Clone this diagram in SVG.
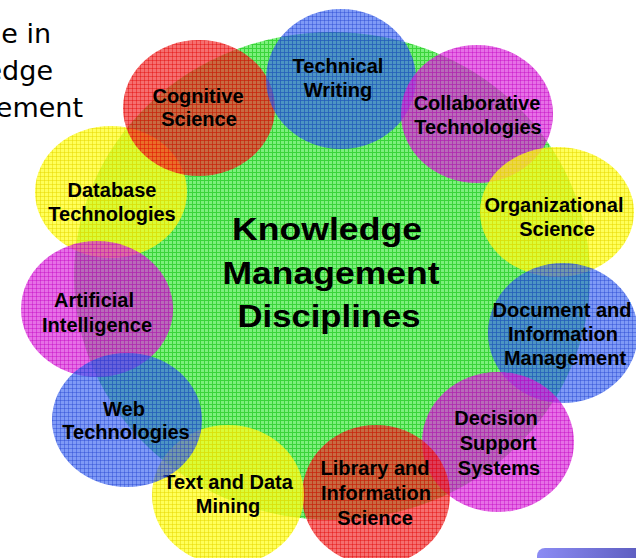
<svg xmlns="http://www.w3.org/2000/svg" width="636" height="558" viewBox="0 0 636 558">
<style>
.lbl{font-family:"Liberation Sans",Arial,sans-serif;font-weight:bold;font-size:20px;text-anchor:middle;fill:#000}
.ctr{font-family:"Liberation Sans",Arial,sans-serif;font-weight:bold;font-size:32px;text-anchor:middle;fill:#000}
.ttl{font-family:"DejaVu Sans",Verdana,sans-serif;font-size:27px;text-anchor:end;fill:#000}
</style>
<defs>
<pattern id="pg" width="4" height="4" patternUnits="userSpaceOnUse">
<rect width="4" height="4" fill="#7cf07c"/>
<path d="M0 0.5H4M0.5 0V4" stroke="#3ad43a" stroke-width="1"/>
</pattern>
<pattern id="pr" width="4" height="4" patternUnits="userSpaceOnUse">
<rect width="4" height="4" fill="#f02424" fill-opacity="0.66"/>
<path d="M0 0.5H4M0.5 0V4" stroke="#e00000" stroke-opacity="0.4" stroke-width="1"/>
</pattern>
<pattern id="pb" width="4" height="4" patternUnits="userSpaceOnUse">
<rect width="4" height="4" fill="#305cf0" fill-opacity="0.62"/>
<path d="M0 0.5H4M0.5 0V4" stroke="#2040d0" stroke-opacity="0.4" stroke-width="1"/>
</pattern>
<pattern id="pm" width="4" height="4" patternUnits="userSpaceOnUse">
<rect width="4" height="4" fill="#d824d8" fill-opacity="0.66"/>
<path d="M0 0.5H4M0.5 0V4" stroke="#c000c0" stroke-opacity="0.4" stroke-width="1"/>
</pattern>
<pattern id="py" width="4" height="4" patternUnits="userSpaceOnUse">
<rect width="4" height="4" fill="#ffff1a" fill-opacity="0.72"/>
<path d="M0 0.5H4M0.5 0V4" stroke="#e8d800" stroke-opacity="0.5" stroke-width="1"/>
</pattern>
<linearGradient id="gbtn" x1="0" y1="0" x2="1" y2="0">
<stop offset="0" stop-color="#8c8cf4"/>
<stop offset="1" stop-color="#5a5abc"/>
</linearGradient>
</defs>

<g id="title">
<text class="ttl" x="51" y="43">e in</text>
<text class="ttl" x="53" y="80">edge</text>
<text class="ttl" x="83" y="117">ement</text>
</g>

<g id="center">
<ellipse cx="332" cy="276" rx="258" ry="244" fill="url(#pg)"/>
<text class="ctr" x="327" y="240" textLength="190" lengthAdjust="spacingAndGlyphs">Knowledge</text>
<text class="ctr" x="331" y="284" textLength="217" lengthAdjust="spacingAndGlyphs">Management</text>
<text class="ctr" x="329" y="327" textLength="183" lengthAdjust="spacingAndGlyphs">Disciplines</text>
</g>

<g id="connectors"></g>

<g id="database">
<ellipse cx="111" cy="192" rx="76" ry="66" fill="url(#py)"/>
<text class="lbl" x="112" y="197">Database</text>
<text class="lbl" x="112" y="221">Technologies</text>
</g>
<g id="cognitive">
<ellipse cx="199" cy="108" rx="76" ry="68" fill="url(#pr)"/>
<text class="lbl" x="198" y="103">Cognitive</text>
<text class="lbl" x="199" y="126">Science</text>
</g>
<g id="technical">
<ellipse cx="341" cy="79" rx="75" ry="70" fill="url(#pb)"/>
<text class="lbl" x="338" y="73">Technical</text>
<text class="lbl" x="338" y="97">Writing</text>
</g>
<g id="collaborative">
<ellipse cx="477" cy="114" rx="76" ry="69" fill="url(#pm)"/>
<text class="lbl" x="477" y="110">Collaborative</text>
<text class="lbl" x="478" y="134">Technologies</text>
</g>
<g id="organizational">
<ellipse cx="557" cy="212" rx="77" ry="65" fill="url(#py)"/>
<text class="lbl" x="554" y="212">Organizational</text>
<text class="lbl" x="557" y="236">Science</text>
</g>
<g id="document">
<ellipse cx="563" cy="333" rx="75" ry="70" fill="url(#pb)"/>
<text class="lbl" x="562" y="317">Document and</text>
<text class="lbl" x="563" y="341">Information</text>
<text class="lbl" x="565" y="365">Management</text>
</g>
<g id="decision">
<ellipse cx="498" cy="442" rx="76" ry="70" fill="url(#pm)"/>
<text class="lbl" x="496" y="425">Decision</text>
<text class="lbl" x="498" y="450">Support</text>
<text class="lbl" x="499" y="475">Systems</text>
</g>
<g id="library">
<ellipse cx="376" cy="495" rx="74" ry="70" fill="url(#pr)"/>
<text class="lbl" x="375" y="475">Library and</text>
<text class="lbl" x="376" y="500">Information</text>
<text class="lbl" x="375" y="525">Science</text>
</g>
<g id="artificial">
<ellipse cx="97" cy="309" rx="76" ry="68" fill="url(#pm)"/>
<text class="lbl" x="94" y="307">Artificial</text>
<text class="lbl" x="97" y="332">Intelligence</text>
</g>
<g id="textmining">
<ellipse cx="228" cy="495" rx="76" ry="70" fill="url(#py)"/>
<text class="lbl" x="228" y="489">Text and Data</text>
<text class="lbl" x="228" y="513">Mining</text>
</g>
<g id="web">
<ellipse cx="127" cy="420" rx="75" ry="67" fill="url(#pb)"/>
<text class="lbl" x="124" y="416">Web</text>
<text class="lbl" x="126" y="439">Technologies</text>
</g>

<rect x="537" y="548" width="110" height="24" rx="8" fill="url(#gbtn)"/>
</svg>
